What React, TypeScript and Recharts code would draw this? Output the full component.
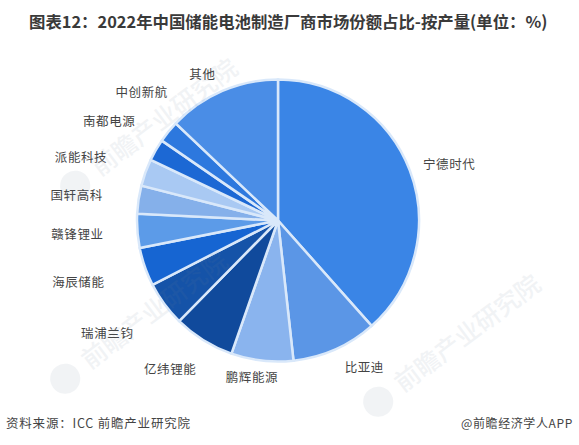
import React from "react";
import { PieChart, Pie, Cell } from "recharts";

const categories = ["宁德时代", "比亚迪", "鹏辉能源", "亿纬锂能", "瑞浦兰钧", "海辰储能", "赣锋锂业", "国轩高科", "派能科技", "南都电源", "中创新航", "其他"];
const shares = [38.4, 9.8, 7.1, 7.0, 5.1, 4.4, 3.9, 3.2, 3.1, 2.5, 2.5, 12.9];
const colors = ["#3a85e6", "#5b96e6", "#8ab4ee", "#104a9c", "#1553a8", "#1665d2", "#5c9be8", "#85b0ea", "#a9c9f3", "#1c68d4", "#2d78de", "#4a8de6"];
// label centre nudges relative to the point just outside each slice
const labelNudges: [number, number][] = [
  [30, -3], [25, 8], [-9, 6], [-28, 20], [-49, 23], [-57, 11], [-50, 2], [-52, -4], [-55, -13], [-38, -25], [-19, -34], [-16, -8],
];
const title = "图表12：2022年中国储能电池制造厂商市场份额占比-按产量(单位：%)";
const sourceText = "资料来源：ICC 前瞻产业研究院";
const creditText = "@前瞻经济学人APP";
const watermarkText = "前瞻产业研究院";
const watermarks: [number, number][] = [[100, 177], [90, 370], [403, 393]];

const data = categories.map((name, i) => ({ name, value: shares[i] }));
const FONT = "'Noto Sans CJK SC', sans-serif";
const RAD = Math.PI / 180;

function renderLabel(p: any) {
  const r = p.outerRadius + 10;
  const x = p.cx + r * Math.cos(-p.midAngle * RAD) + labelNudges[p.index][0];
  const y = p.cy + r * Math.sin(-p.midAngle * RAD) + labelNudges[p.index][1];
  return (
    <text x={x} y={y} textAnchor="middle" dominantBaseline="central" fontSize={12.5} letterSpacing={0.6} fill="#444" fontFamily={FONT}>
      {p.name}
    </text>
  );
}

export default function App() {
  return (
    <div style={{ position: "absolute", left: 0, top: 0, width: 579, height: 445, background: "#fff", overflow: "hidden" }}>
      <PieChart width={579} height={445} margin={{ top: 0, right: 0, bottom: 0, left: 0 }}>
        <Pie
          data={data}
          dataKey="value"
          nameKey="name"
          cx={278}
          cy={220.5}
          outerRadius={141}
          startAngle={90}
          endAngle={-270}
          stroke="#d9e8fa"
          strokeWidth={2.5}
          label={renderLabel}
          labelLine={false}
          isAnimationActive={false}
        >
          {data.map((d, i) => (
            <Cell key={d.name} fill={colors[i]} />
          ))}
        </Pie>
      </PieChart>
      <svg width={579} height={445} style={{ position: "absolute", left: 0, top: 0, pointerEvents: "none" }}>
        <text x={29} y={28} fontSize={16.4} fontWeight={700} fill="#3a3a3a" fontFamily={FONT}>{title}</text>
        <text x={6} y={428} fontSize={12.5} letterSpacing={0.8} fill="#444" fontFamily={FONT}>{sourceText}</text>
        <text x={461} y={428} fontSize={12} letterSpacing={0.6} fill="#444" fontFamily={FONT}>{creditText}</text>
        {watermarks.map(([x, y], i) => (
          <g key={i} transform={`rotate(-37 ${x} ${y})`} opacity={0.09}>
            <text x={x} y={y} fontSize={25} fontWeight={500} fill="#6b7f99" fontFamily={FONT}>{watermarkText}</text>
            <circle cx={x - 25} cy={y - 8} r={15} fill="#6b7f99" />
          </g>
        ))}
      </svg>
    </div>
  );
}
